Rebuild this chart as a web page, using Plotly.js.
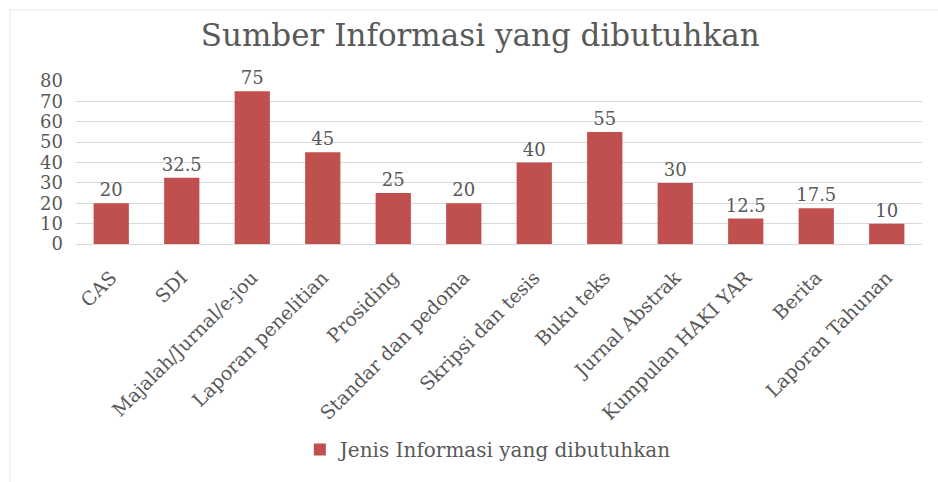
<!DOCTYPE html>
<html>
<head>
<meta charset="utf-8">
<script src="https://cdn.plot.ly/plotly-3.0.1.min.js"></script>
<style>html,body{margin:0;padding:0;background:#fff;}#chart{width:938px;height:482px;}</style>
</head>
<body>
<div id="chart"></div>
<script>
const categories = ["CAS", "SDI", "Majalah/Jurnal/e-jou", "Laporan penelitian", "Prosiding", "Standar dan pedoma", "Skripsi dan tesis", "Buku teks", "Jurnal Abstrak", "Kumpulan HAKI YAR", "Berita", "Laporan Tahunan"];
const values = [20, 32.5, 75, 45, 25, 20, 40, 55, 30, 12.5, 17.5, 10];
const valueLabels = ["20", "32.5", "75", "45", "25", "20", "40", "55", "30", "12.5", "17.5", "10"];
const yTicks = [0, 10, 20, 30, 40, 50, 60, 70, 80];
const seriesName = "Jenis Informasi yang dibutuhkan";
const chartTitle = "Sumber Informasi yang dibutuhkan";

const FONT = "DejaVu Serif, Liberation Serif, serif";
const GRAY = "#595959";

const trace = {
  type: "bar",
  x: categories,
  y: values,
  name: seriesName,
  text: valueLabels,
  textposition: "outside",
  constraintext: "none",
  cliponaxis: false,
  textfont: {family: FONT, size: 18, color: GRAY},
  marker: {color: "#c0504d"},
  hoverinfo: "x+y"
};

const layout = {
  width: 938,
  height: 482,
  margin: {l: 76, r: 16, t: 81, b: 238},
  paper_bgcolor: "#ffffff",
  plot_bgcolor: "#ffffff",
  font: {family: FONT, color: GRAY},
  title: {
    text: chartTitle,
    font: {family: FONT, size: 31, color: GRAY},
    x: 0.512, xanchor: "center",
    y: 0.928, yanchor: "middle"
  },
  bargap: 0.5,
  showlegend: true,
  legend: {
    orientation: "h",
    x: 0.488, xanchor: "center",
    y: -1.26, yanchor: "middle",
    font: {family: FONT, size: 20, color: GRAY}
  },
  xaxis: {
    type: "category",
    tickangle: -45,
    tickfont: {family: FONT, size: 19, color: GRAY},
    ticklabelstandoff: 14,
    showline: true,
    linecolor: "#d9d9d9",
    linewidth: 1,
    ticks: "",
    automargin: false
  },
  yaxis: {
    range: [0, 80],
    tickvals: yTicks,
    tickfont: {family: FONT, size: 18, color: GRAY},
    ticklabelstandoff: 12,
    showgrid: true,
    gridcolor: "#d9d9d9",
    gridwidth: 1,
    zeroline: false,
    ticks: "",
    ticklen: 0,
    automargin: false
  },
  shapes: [
    {type: "line", xref: "paper", yref: "paper", x0: -0.078, x1: 1.02, y0: 1.436, y1: 1.436, line: {color: "#e6e6e6", width: 1}},
    {type: "line", xref: "paper", yref: "paper", x0: -0.078, x1: -0.078, y0: -1.5, y1: 1.436, line: {color: "#e6e6e6", width: 1}}
  ]
};

Plotly.newPlot("chart", [trace], layout, {displayModeBar: false, staticPlot: true});
</script>
</body>
</html>
